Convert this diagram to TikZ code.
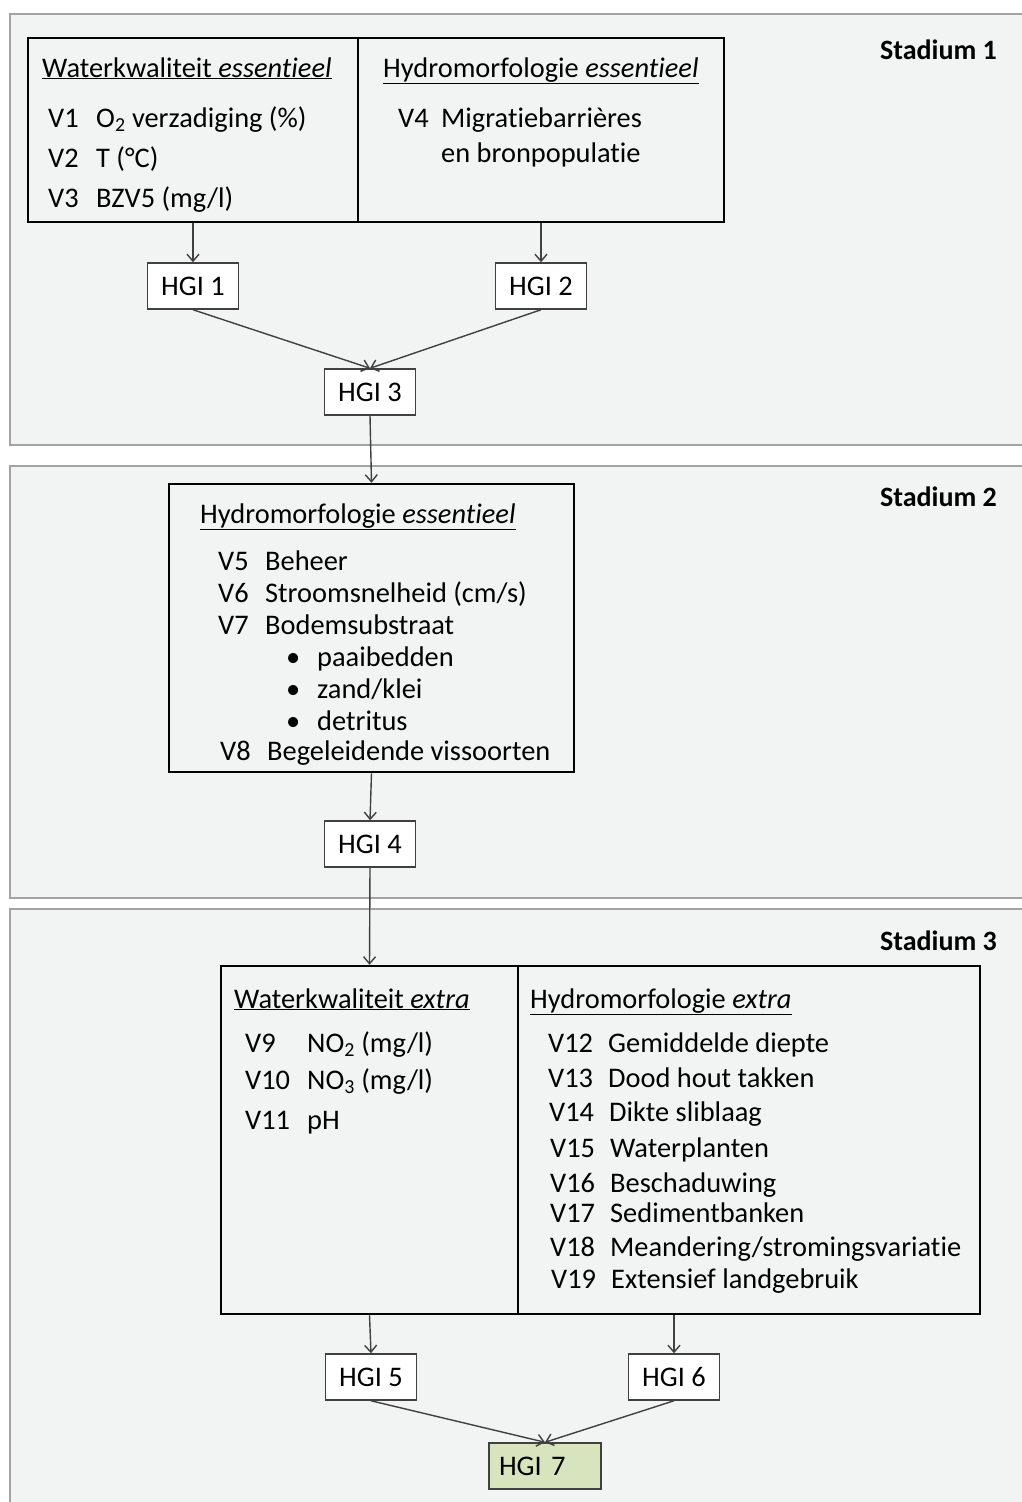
\documentclass[tikz,border=0pt]{standalone}
\usepackage{fontspec}
\setmainfont{Carlito}[Ligatures=NoCommon]
\usetikzlibrary{arrows.meta}

\definecolor{panelgrey}{HTML}{F2F3F3}
\definecolor{panelline}{HTML}{A3A3A3}
\definecolor{linegrey}{HTML}{404040}
\definecolor{hgigreen}{HTML}{D7E4BD}

% label + text with a fixed tab
\newcommand{\varitem}[3]{\makebox[#1][l]{#2}#3}

\tikzset{
	panel/.style={fill=panelgrey, draw=panelline, line width=2pt},
	varbox/.style={draw=black, line width=2.5pt, inner sep=0pt},
	hgi/.style={draw=linegrey, line width=1.5pt, fill=white, inner sep=0pt,
		minimum width=91pt, minimum height=46pt},
	txt/.style={anchor=base west, inner sep=0pt},
	stadium/.style={anchor=base east, inner sep=0pt, font=\fontsize{28}{32}\selectfont\bfseries},
	arr/.style={draw=linegrey, line width=1.4pt, -{Straight Barb[length=7pt,width=12pt]}},
}

\begin{document}
\begin{tikzpicture}[x=1pt, y=-1pt, font=\fontsize{28.4}{32}\selectfont]
	\useasboundingbox (0,0) rectangle (1021,1502);

	% stadia
	\draw[panel] (10,14) rectangle (1035,445);
	\draw[panel] (10,466) rectangle (1035,898);
	\draw[panel] (10,909) rectangle (1035,1515);
	\node[stadium] (s1) at (997,59) {Stadium 1};
	\node[stadium] (s2) at (997,506) {Stadium 2};
	\node[stadium] (s3) at (997,950) {Stadium 3};

	% stadium 1
	\node[varbox, minimum width=330pt, minimum height=184pt] (wq1) at (193,130) {};
	\node[varbox, minimum width=366pt, minimum height=184pt] (hm1) at (541,130) {};
	\node[txt] (h1a) at (42,77) {\underline{Waterkwaliteit \textit{essentieel}}};
	\node[txt] (v1) at (48,127) {\varitem{48pt}{V1}{O\textsubscript{2} verzadiging (\%)}};
	\node[txt] (v2) at (48,167) {\varitem{48pt}{V2}{T (°C)}};
	\node[txt] (v3) at (48,207) {\varitem{48pt}{V3}{BZV5 (mg/l)}};
	\node[txt] (h1b) at (383,77) {\underline{Hydromorfologie \textit{essentieel}}};
	\node[txt] (v4) at (398,127) {\varitem{43pt}{V4}{Migratiebarrières}};
	\node[txt] (v4b) at (441,162) {en bronpopulatie};

	\node[hgi] (hgi1) at (193,286) {HGI 1};
	\node[hgi] (hgi2) at (541,286) {HGI 2};
	\node[hgi] (hgi3) at (370,392) {HGI 3};

	% stadium 2
	\node[varbox, minimum width=405pt, minimum height=288pt] (hm2) at (371.5,628) {};
	\node[txt] (h2) at (200,523) {\underline{Hydromorfologie \textit{essentieel}}};
	\node[txt] (v5) at (218,570) {\varitem{47pt}{V5}{Beheer}};
	\node[txt] (v6) at (218,602) {\varitem{47pt}{V6}{Stroomsnelheid (cm/s)}};
	\node[txt] (v7) at (218,634) {\varitem{47pt}{V7}{Bodemsubstraat}};
	\node[txt] (v7a) at (286,666) {\varitem{31pt}{\textbullet}{paaibedden}};
	\node[txt] (v7b) at (286,698) {\varitem{31pt}{\textbullet}{zand/klei}};
	\node[txt] (v7c) at (286,730) {\varitem{31pt}{\textbullet}{detritus}};
	\node[txt] (v8) at (220,760) {\varitem{47pt}{V8}{Begeleidende vissoorten}};

	\node[hgi] (hgi4) at (370,844) {HGI 4};

	% stadium 3
	\node[varbox, minimum width=297pt, minimum height=348pt] (wq3) at (369.5,1140) {};
	\node[varbox, minimum width=462pt, minimum height=348pt] (hm3) at (749,1140) {};
	\node[txt] (h3a) at (234,1008) {\underline{Waterkwaliteit \textit{extra}}};
	\node[txt] (v9) at (245,1052) {\varitem{62pt}{V9}{NO\textsubscript{2} (mg/l)}};
	\node[txt] (v10) at (245,1089) {\varitem{62pt}{V10}{NO\textsubscript{3} (mg/l)}};
	\node[txt] (v11) at (245,1129) {\varitem{62pt}{V11}{pH}};
	\node[txt] (h3b) at (530,1008) {\underline{Hydromorfologie \textit{extra}}};
	\node[txt] (v12) at (548,1052) {\varitem{60pt}{V12}{Gemiddelde diepte}};
	\node[txt] (v13) at (548,1087) {\varitem{60pt}{V13}{Dood hout takken}};
	\node[txt] (v14) at (549,1121) {\varitem{60pt}{V14}{Dikte sliblaag}};
	\node[txt] (v15) at (550,1157) {\varitem{60pt}{V15}{Waterplanten}};
	\node[txt] (v16) at (550,1192) {\varitem{60pt}{V16}{Beschaduwing}};
	\node[txt] (v17) at (550,1222) {\varitem{60pt}{V17}{Sedimentbanken}};
	\node[txt] (v18) at (550,1256) {\varitem{60pt}{V18}{Meandering/stromingsvariatie}};
	\node[txt] (v19) at (551,1288) {\varitem{60pt}{V19}{Extensief landgebruik}};

	\node[hgi] (hgi5) at (371,1377) {HGI 5};
	\node[hgi] (hgi6) at (674,1377) {HGI 6};
	\node[hgi, fill=hgigreen, minimum width=112pt, text width=92pt, align=left] (hgi7) at (545,1466) {HGI 7};

	% pijlen
	\draw[arr] (wq1.south) -- (hgi1.north);
	\draw[arr] (hm1.south) -- (hgi2.north);
	\draw[arr] (hgi1.south) -- (hgi3.north);
	\draw[arr] (hgi2.south) -- (hgi3.north);
	\draw[arr] (hgi3.south) -- (hm2.north);
	\draw[arr] (hm2.south) -- (hgi4.north);
	\draw[arr] (hgi4.south) -- (wq3.north);
	\draw[arr] (wq3.south) -- (hgi5.north);
	\draw[arr] (hgi6 |- hm3.south) -- (hgi6.north);
	\draw[arr] (hgi5.south) -- (hgi7.north);
	\draw[arr] (hgi6.south) -- (hgi7.north);
\end{tikzpicture}
\end{document}
